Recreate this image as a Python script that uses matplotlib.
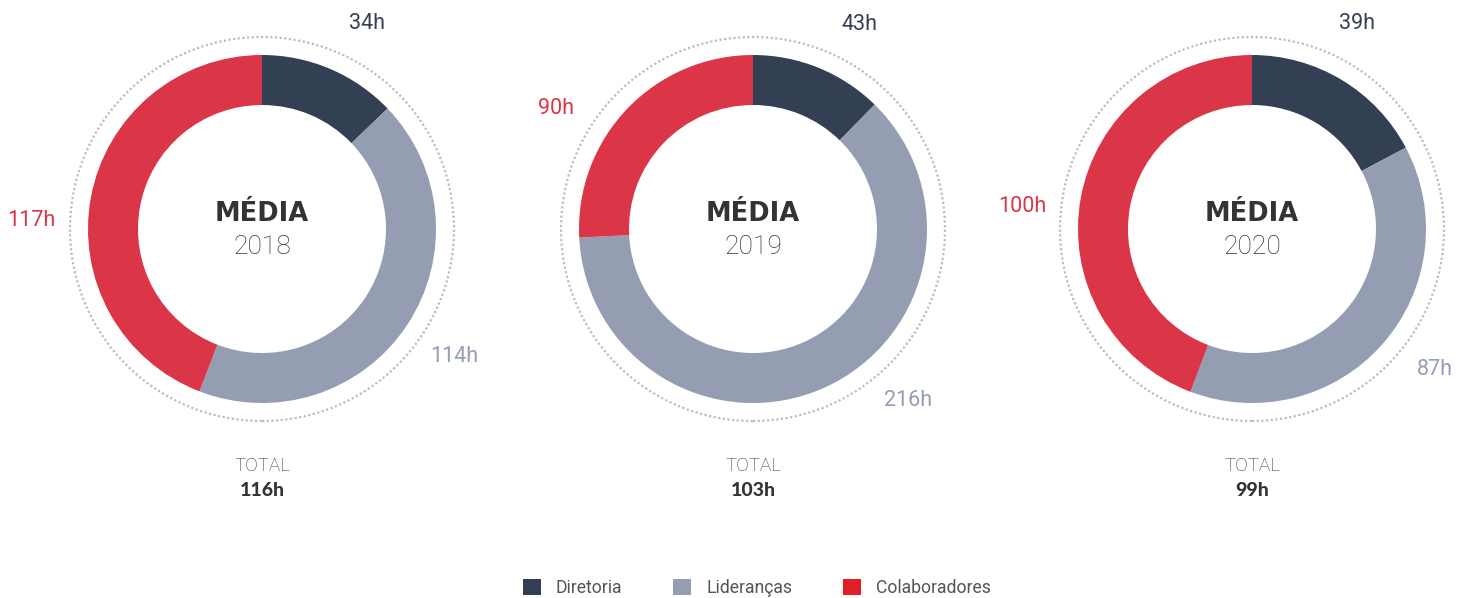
import matplotlib.pyplot as plt
from matplotlib.patches import Circle, Patch
import numpy as np

# dados
anos = ['2018', '2019', '2020']
categorias = ['Diretoria', 'Lideranças', 'Colaboradores']
diretoria = [34, 43, 39]
liderancas = [114, 216, 87]
colaboradores = [117, 90, 100]
totais = ['116h', '103h', '99h']

cores = ['#333f53', '#959db3', '#db3647']
cores_legenda = ['#333f53', '#959db3', '#e21f26']

# posicao dos rotulos (angulo horario a partir do topo), por ano
angulos_rotulos = [
    [27, 123.5, 272],
    [27.5, 138, 301.5],
    [27, 127.5, 275.5],
]

W, H = 1459, 598
fig = plt.figure(figsize=(W / 100, H / 100), dpi=100)
ax = fig.add_axes([0, 0, 1, 1])

centros_x = [262, 753, 1252]
cy = H - 229
r_ext = 174
largura = 50
r_rot = 231

for i, ano in enumerate(anos):
    valores = [diretoria[i], liderancas[i], colaboradores[i]]
    cx = centros_x[i]
    ax.pie(valores, colors=cores, center=(cx, cy), radius=r_ext,
           startangle=90, counterclock=False,
           wedgeprops=dict(width=largura, linewidth=0))
    ax.add_patch(Circle((cx, cy), 192, fill=False, edgecolor='#bdbdbd',
                        linewidth=1.6, linestyle=(0, (1, 1.1))))

    for v, cor, ang in zip(valores, cores, angulos_rotulos[i]):
        a = np.deg2rad(ang)
        ax.text(cx + r_rot * np.sin(a), cy + r_rot * np.cos(a), f'{v}h',
                ha='center', va='center', fontsize=15.5, color=cor,
                family='Roboto')

    ax.text(cx, H - 214, 'MÉDIA', ha='center', va='center', fontsize=18.5,
            fontweight='bold', color='#333333', family='DejaVu Sans')
    ax.text(cx, H - 247, ano, ha='center', va='center', fontsize=19,
            fontweight='light', color='#333333', family='Roboto')
    ax.text(cx, H - 466, 'TOTAL', ha='center', va='center', fontsize=13.5,
            fontweight='light', color='#333333', family='Roboto')
    ax.text(cx, H - 491, totais[i], ha='center', va='center', fontsize=14,
            fontweight='black', color='#333333', family='Lato')

ax.set_xlim(0, W)
ax.set_ylim(0, H)
ax.set_aspect('equal')
ax.axis('off')

handles = [Patch(facecolor=c, edgecolor='none', label=l)
           for c, l in zip(cores_legenda, categorias)]
leg = ax.legend(handles=handles, loc='center', bbox_to_anchor=(757 / W, 10 / H),
                ncol=3, frameon=False, handlelength=1.0,
                handleheight=1.0, handletextpad=0.85, columnspacing=2.9,
                prop={'family': 'Roboto', 'size': 12.7})
for t in leg.get_texts():
    t.set_color('#555555')

fig.savefig('out.png', dpi=100)
